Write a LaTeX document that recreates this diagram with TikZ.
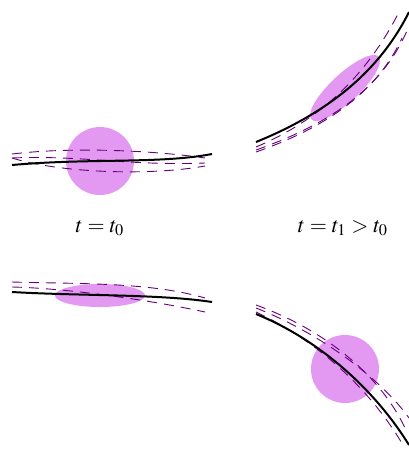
\documentclass[tikz,border=0pt]{standalone}
\usepackage{mathptmx}
\usepackage{tikz}
\definecolor{blobfill}{RGB}{227,152,242}
\definecolor{trajpurple}{RGB}{102,0,120}

\begin{document}
\begin{tikzpicture}[
  x=0.5pt, y=-0.5pt,
  blob/.style={fill=blobfill, draw=none},
  orbit/.style={draw=black, line width=1pt},
  pert/.style={draw=trajpurple, line width=0.45pt, dash pattern=on 5pt off 3.5pt},
  lab/.style={font=\fontsize{11}{13}\selectfont, inner sep=1pt}]

\useasboundingbox (0,0) rectangle (409,463);

% top left: t = t0
\fill[blob] (100,161) circle[radius=34];
\draw[pert] (12,154) .. controls (70,147) and (150,150) .. (205,158);
\draw[pert] (12,158) .. controls (80,155) and (130,166) .. (205,163);
\draw[pert] (12,158) .. controls (60,173) and (150,176) .. (205,166);
\draw[orbit] (12,165) .. controls (90,158) and (160,164) .. (212,154);

% top right: t = t1 > t0
\fill[blob] (345,88) ellipse[x radius=46, y radius=14, rotate=43];
\draw[pert] (256,147) .. controls (325,118) and (370,70) .. (400,10);
\draw[pert] (256,150) .. controls (335,122) and (385,85) .. (409,26);
\draw[pert] (256,152) .. controls (330,126) and (378,90) .. (402,38);
\draw[orbit] (256,142) .. controls (330,112) and (380,70) .. (409,12);

% bottom left
\fill[blob] (100,295.5) ellipse[x radius=45, y radius=11.5];
\draw[pert] (12,282) .. controls (80,284) and (150,282) .. (205,298);
\draw[pert] (12,287) .. controls (60,288) and (140,298) .. (205,312);
\draw[orbit] (12,292) .. controls (80,296) and (160,294) .. (212,302);

% bottom right
\fill[blob] (345,369) circle[radius=34];
\draw[pert] (256,305) .. controls (325,330) and (380,375) .. (405,428);
\draw[pert] (256,308) .. controls (322,334) and (382,380) .. (409,418);
\draw[pert] (256,312) .. controls (320,342) and (372,392) .. (403,445);
\draw[orbit] (256,314) .. controls (320,340) and (375,390) .. (409,445);

\node[lab] (tzero) at (100,228) {$t=t_0$};
\node[lab] (tone)  at (343,228) {$t=t_1>t_0$};
\end{tikzpicture}
\end{document}
